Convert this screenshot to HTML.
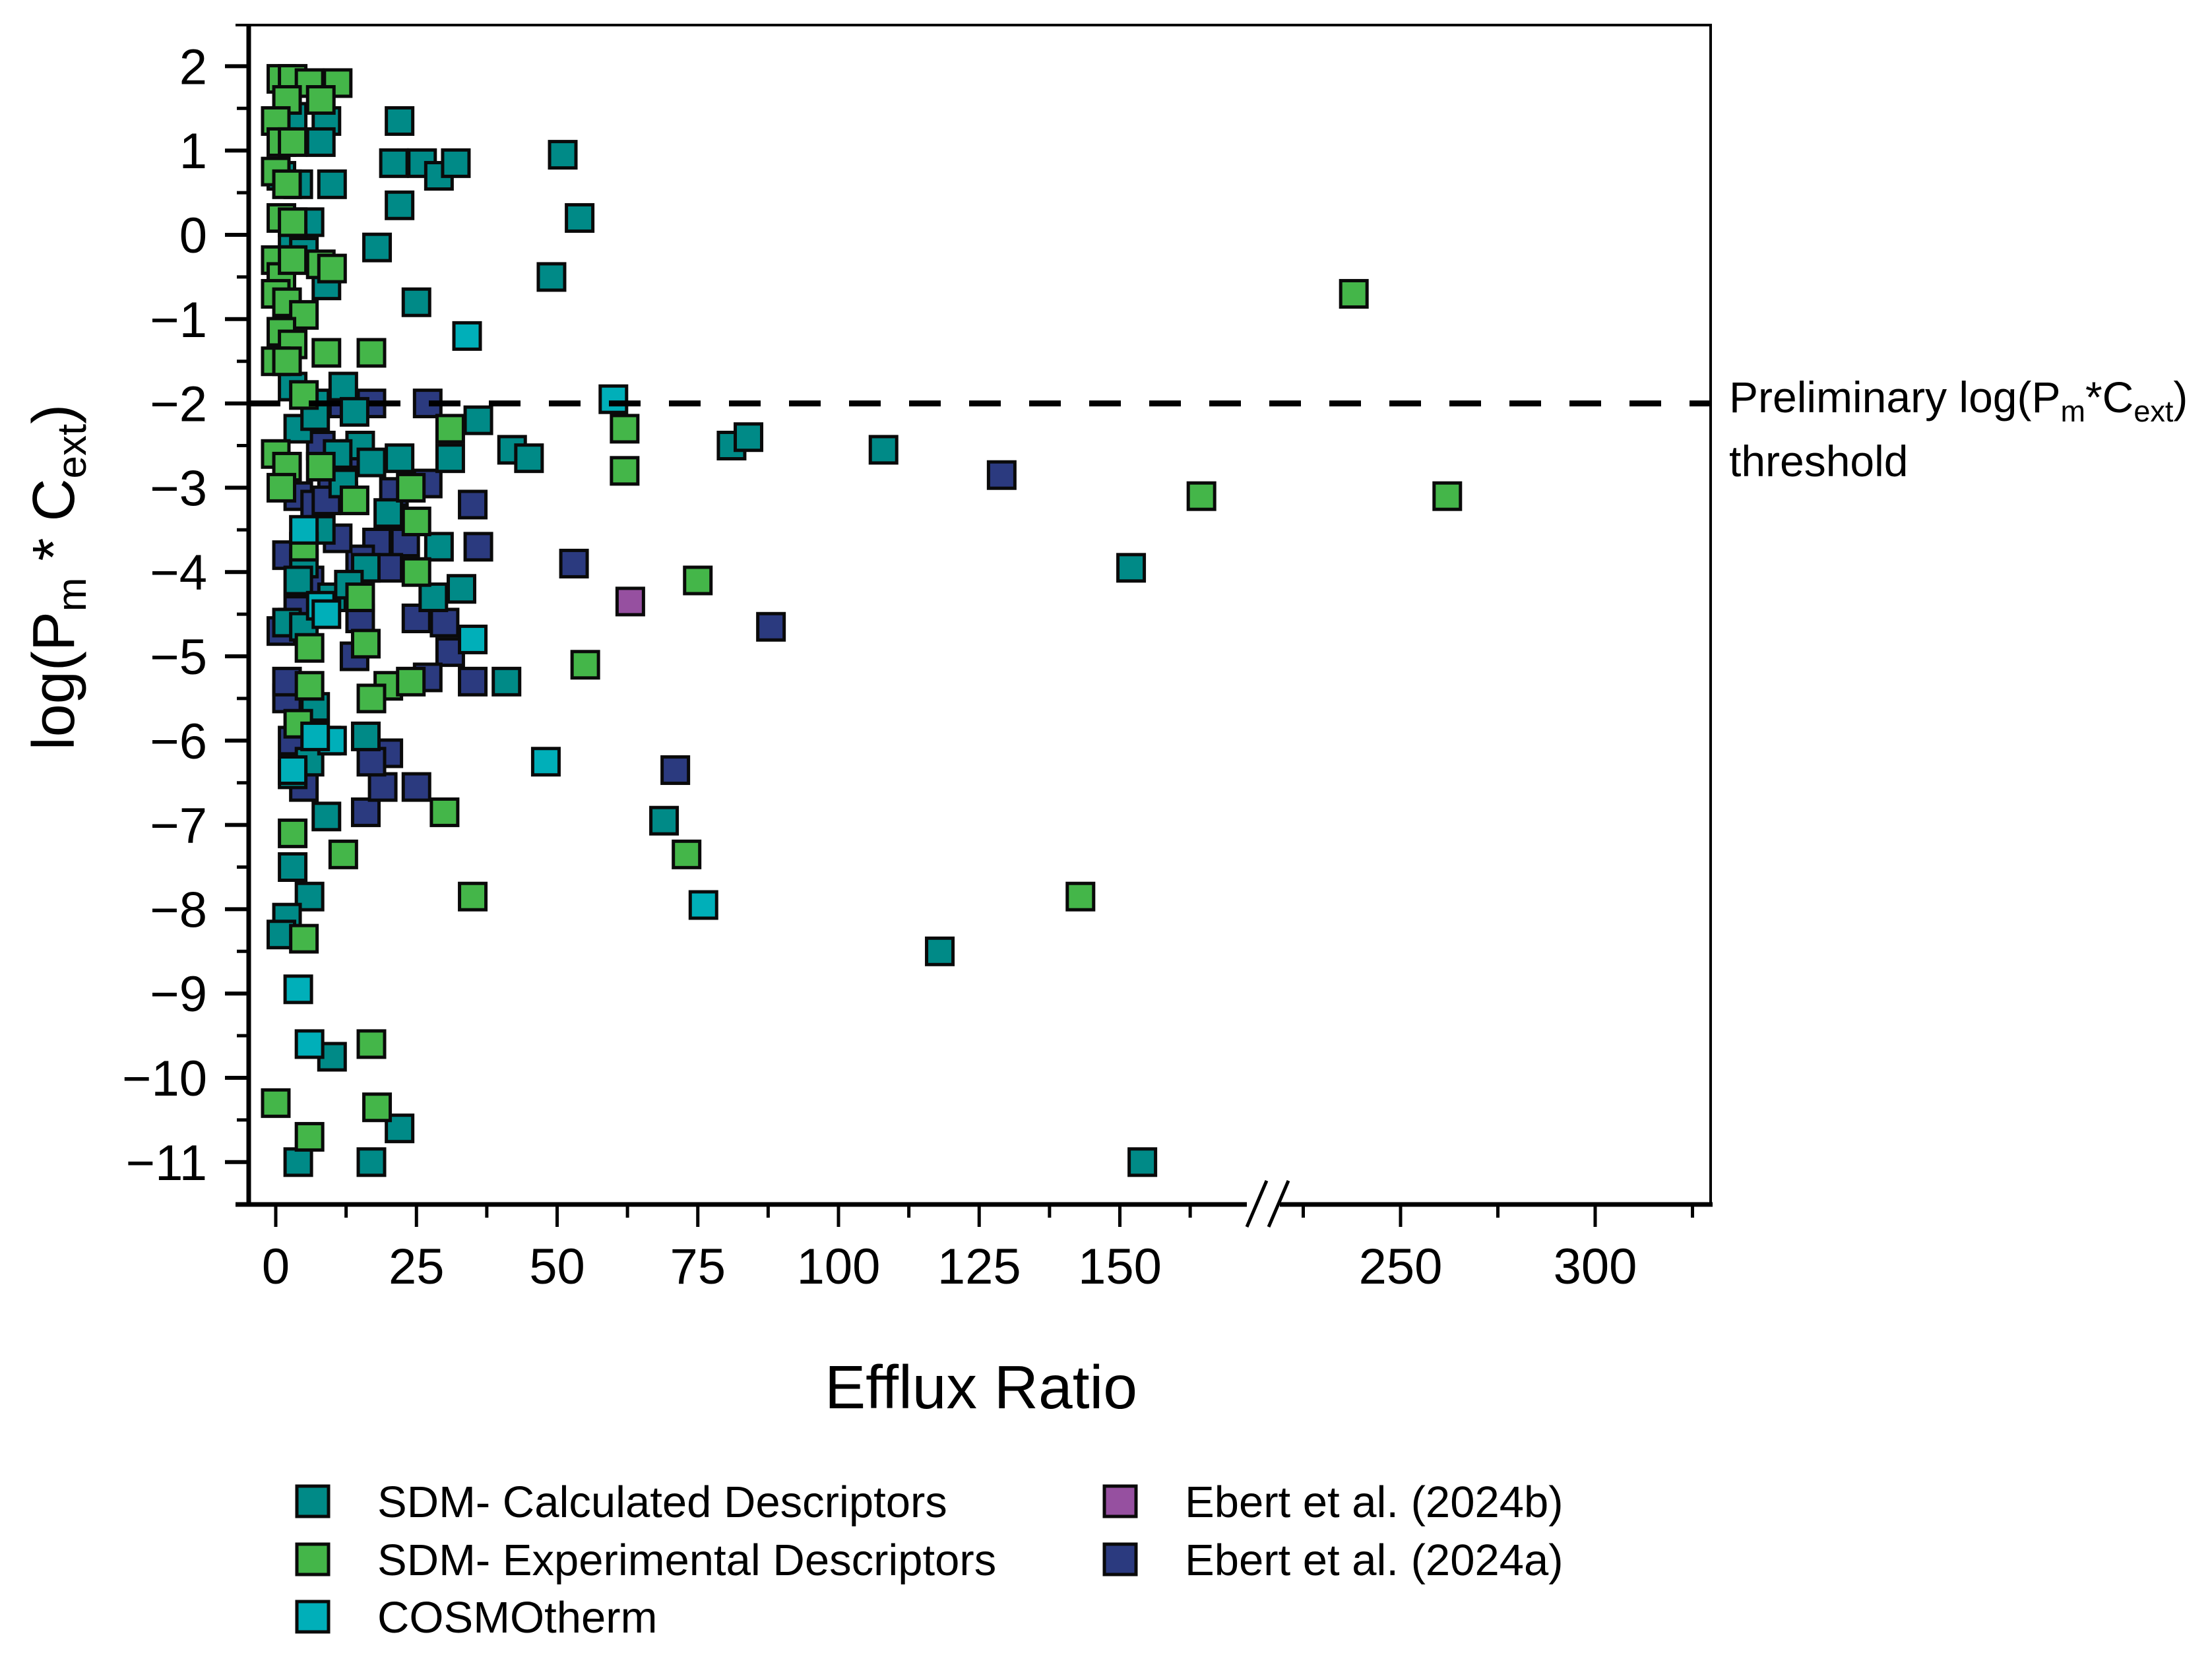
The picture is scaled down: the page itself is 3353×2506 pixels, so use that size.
<!DOCTYPE html>
<html><head><meta charset="utf-8"><style>
html,body{margin:0;padding:0;background:#fff;}
svg{display:block;font-family:"Liberation Sans",Arial,sans-serif;}
</style></head><body>
<svg id="chart" width="3353" height="2506" viewBox="0 0 3353 2506" xmlns="http://www.w3.org/2000/svg">
<rect width="3353" height="2506" fill="#fff"/>
<g id="marks"></g>
<g id="axes"></g>
<text transform="translate(112,875) rotate(-90)" text-anchor="middle" font-size="90">log(P<tspan font-size="62" dy="18">m</tspan><tspan dy="-18"> * C</tspan><tspan font-size="62" dy="18">ext</tspan><tspan dy="-18">)</tspan></text>
<text x="1487" y="2135" text-anchor="middle" font-size="93">Efflux Ratio</text>
<g font-size="66">
<text x="2621" y="625">Preliminary log(P<tspan font-size="45" dy="14">m</tspan><tspan dy="-14">*C</tspan><tspan font-size="45" dy="14">ext</tspan><tspan dy="-14">)</tspan></text>
<text x="2621" y="722">threshold</text>
</g>
<g id="legend"></g>
</svg>
<script>
const yTicks = [2,1,0,-1,-2,-3,-4,-5,-6,-7,-8,-9,-10,-11];
const xTicksA = [0,25,50,75,100,125,150];
const xTicksB = [250,300];
const threshold = -2;

const calcX = [22,21,26,29,32,51,54,22,18,25,49,10,4,9,8,6,3,5,9,3,7,12,4,15,17,22,31,36,42,45,81,84,108,20,29,33,28,152,5,10,12,8,16,4,41,7,9,16,6,3,9,69,3,6,2,1,118,10,22,4,17,154,3,1,7,11,13,2,14,5];
const calcY = [1.35,0.85,0.85,0.7,0.85,0.95,0.2,0.35,-0.15,-0.8,-0.5,0.6,0.6,1.35,1.1,0.15,-0.1,-0.2,-0.6,-1.8,-2.0,-1.8,-2.3,-2.5,-2.7,-2.65,-2.65,-2.2,-2.55,-2.65,-2.5,-2.4,-2.55,-3.3,-3.7,-4.2,-4.3,-3.95,-3.9,-4.3,-2.95,-3.5,-3.95,-4.1,-5.3,-5.6,-6.0,-5.95,-6.25,-6.4,-6.9,-6.95,-7.5,-7.85,-8.1,-8.3,-8.5,-9.75,-10.6,-11.0,-11.0,-11.0,1.4,0.7,-2.15,-2.6,-4.15,-4.6,-2.1,-4.65];
const expX = [1,3,6,11,2,8,0,1,3,0,2,1,3,0,1,3,8,10,0,2,5,1,3,0,2,9,17,5,238,62,62,31,0,2,8,24,1,25,164.5,262,75,5,25,15,55,6,16,20,24,6,17,4,30,3,12,73,35,143,5,17,0,18,6,14];
const expY = [1.85,1.85,1.8,1.8,1.6,1.6,1.35,1.1,1.1,0.75,0.6,0.2,0.15,-0.3,-0.5,-0.3,-0.35,-0.4,-0.7,-0.8,-0.95,-1.15,-1.3,-1.5,-1.5,-1.4,-1.4,-1.9,-0.7,-2.3,-2.8,-2.3,-2.6,-2.75,-2.75,-3.0,-3.0,-3.4,-3.1,-3.1,-4.1,-3.7,-4.0,-4.3,-5.1,-4.9,-4.85,-5.35,-5.3,-5.35,-5.5,-5.8,-6.85,-7.1,-7.35,-7.35,-7.85,-7.85,-8.35,-9.6,-10.3,-10.35,-10.7,-3.15];
const cosmoX = [34,60,5,8,9,35,10,3,48,76,4,6,7];
const cosmoY = [-1.2,-1.95,-3.5,-4.4,-4.5,-4.8,-6.0,-6.35,-6.25,-7.95,-8.95,-9.6,-5.95];
const ebertbX = [63];
const ebertbY = [-4.35];
const ebertaX = [27,17,12,27,35,129,36,18,23,20,53,15,25,30,31,15,14,27,35,88,71,25,16,19,20,17,2,3,5,4,7,10,12,2,3,2,14,8,11,6,4,1,9,21];
const ebertaY = [-2.0,-2.0,-2.0,-2.95,-3.2,-2.85,-3.7,-3.65,-3.65,-3.95,-3.9,-3.85,-4.55,-4.6,-4.95,-4.55,-5.0,-5.25,-5.3,-4.65,-6.35,-6.55,-6.85,-6.55,-6.15,-6.25,-5.5,-6.0,-6.55,-3.1,-3.2,-3.0,-3.1,-3.8,-4.6,-5.3,-2.6,-2.5,-3.6,-4.1,-4.45,-4.7,-3.15,-3.05];

const NS='http://www.w3.org/2000/svg';
const L=377,R=2593,T=38,B=1826;
function X(v){ return v<=170 ? 418+v*8.53 : 2123+(v-250)*5.9; }
function Y(v){ return 356-v*127.8; }
function mk(tag,attrs,parent){const e=document.createElementNS(NS,tag);for(const k in attrs)e.setAttribute(k,attrs[k]);parent.appendChild(e);return e;}

const marks=document.getElementById('marks');
const series=[
 {name:'series-ebert-2024a',xs:ebertaX,ys:ebertaY,c:'#2b3a7f'},
 {name:'series-sdm-calculated',xs:calcX,ys:calcY,c:'#008a87'},
 {name:'series-sdm-experimental',xs:expX,ys:expY,c:'#44b649'},
 {name:'series-cosmotherm',xs:cosmoX,ys:cosmoY,c:'#00afb9'},
 {name:'series-ebert-2024b',xs:ebertbX,ys:ebertbY,c:'#9650a0'}
];
series.forEach(s=>{
  const g=mk('g',{},marks);
  
  
  s.xs.forEach((xv,i)=>{
    const r=mk('rect',{x:X(xv)-20,y:Y(s.ys[i])-20,width:40,height:40,fill:s.c,stroke:'#0a0a0a','stroke-width':5},g);
    
    
  });
});

const ax=document.getElementById('axes');
const th=mk('line',{x1:L,x2:R,y1:Y(threshold),y2:Y(threshold),stroke:'#000','stroke-width':9,'stroke-dasharray':'48 43'},ax);


const fr=mk('path',{d:`M${L},${T} H${R} V${B} H${L} Z`,fill:'none',stroke:'#000','stroke-width':4},ax);


mk('line',{x1:L,x2:L,y1:T-2,y2:B+3,stroke:'#000','stroke-width':7},ax);
mk('line',{x1:L-20,x2:R+3,y1:B,y2:B,stroke:'#000','stroke-width':7},ax);
mk('line',{x1:L-20,x2:L,y1:T,y2:T,stroke:'#000','stroke-width':4},ax);
mk('rect',{x:1890,y:B-8,width:50,height:16,fill:'#fff'},ax);
const br=mk('path',{d:'M1890,1860 L1920,1790 M1923,1860 L1953,1790',stroke:'#000','stroke-width':5,fill:'none'},ax);


yTicks.forEach(v=>{
  mk('line',{x1:L-36,x2:L,y1:Y(v),y2:Y(v),stroke:'#000','stroke-width':6},ax);
  const t=mk('text',{x:314,y:Y(v)+27,'text-anchor':'end','font-size':76},ax);
  t.textContent=(v<0?'\u2212'+(-v):String(v));
  
  
});
for(let i=0;i<yTicks.length;i++){const v=yTicks[i]+0.5; if(v<=2.4) mk('line',{x1:L-18,x2:L,y1:Y(v),y2:Y(v),stroke:'#000','stroke-width':5},ax);}
mk('line',{x1:L-18,x2:L,y1:Y(-11.5),y2:Y(-11.5),stroke:'#000','stroke-width':5},ax);
xTicksA.concat(xTicksB).forEach(v=>{
  mk('line',{x1:X(v),x2:X(v),y1:B,y2:B+34,stroke:'#000','stroke-width':5},ax);
  const t=mk('text',{x:X(v),y:B+120,'text-anchor':'middle','font-size':76},ax);
  t.textContent=String(v);
  
  
});
xTicksA.forEach(v=>mk('line',{x1:X(v+12.5),x2:X(v+12.5),y1:B,y2:B+20,stroke:'#000','stroke-width':5},ax));
[225,275,325].forEach(v=>mk('line',{x1:X(v),x2:X(v),y1:B,y2:B+20,stroke:'#000','stroke-width':5},ax));

const lg=document.getElementById('legend');
const legendNames=['SDM- Calculated Descriptors','SDM- Experimental Descriptors','COSMOtherm','Ebert et al. (2024b)','Ebert et al. (2024a)'];
const legendColors=['#008a87','#44b649','#00afb9','#9650a0','#2b3a7f'];
const legendPos=[[474,2276],[474,2364],[474,2451],[1698,2276],[1698,2364]];
legendNames.forEach((n,i)=>{
  const g=mk('g',{},lg);
  
  
  const [cx,cy]=legendPos[i];
  mk('rect',{x:cx-24,y:cy-23,width:48,height:46,fill:legendColors[i],stroke:'#0a0a0a','stroke-width':5},g);
  const t=mk('text',{x:cx+98,y:cy+24,'font-size':67},g);
  t.textContent=n;
});
</script>
</body></html>
